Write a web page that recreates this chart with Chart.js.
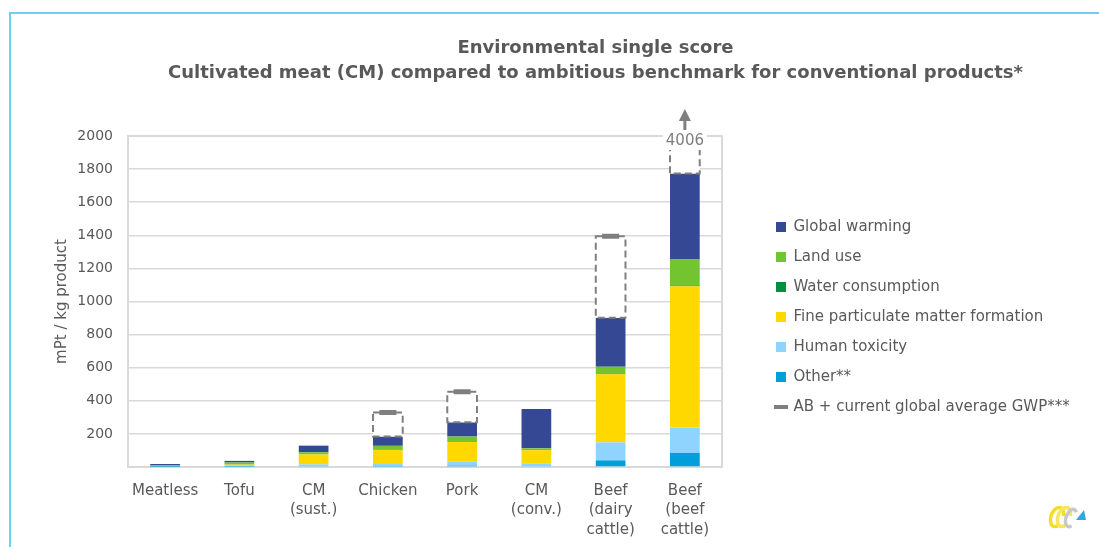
<!DOCTYPE html>
<html><head><meta charset="utf-8">
<script src="https://cdn.jsdelivr.net/npm/chart.js@4.4.1/dist/chart.umd.min.js"></script>
<style>
html,body{margin:0;padding:0;background:#fff;}
#wrap{position:relative;width:1099px;height:547px;overflow:hidden;}
#frame{position:absolute;left:9px;top:12px;width:1200px;height:600px;border-left:2px solid #6dcff6;border-top:2px solid #6dcff6;}
canvas{position:absolute;left:0;top:0;}
</style></head><body>
<div id="wrap"><div id="frame"></div><canvas id="c" width="1099" height="547"></canvas></div>
<script>
// ---- data ----
const categories = ['Meatless', 'Tofu', ['CM', '(sust.)'], 'Chicken', 'Pork', ['CM', '(conv.)'], ['Beef', '(dairy', 'cattle)'], ['Beef', '(beef', 'cattle)']];
const globalWarming     = [8, 10, 40, 56, 86, 237, 296, 520];
const landUse           = [5, 10, 12, 24, 32, 10, 44, 157];
const waterConsumption  = [1, 2, 1, 1, 1, 1, 2, 5];
const fineParticulate   = [2, 8, 60, 85, 117, 80, 411, 854];
const humanToxicity     = [1, 5, 12, 15, 26, 18, 109, 153];
const other             = [1, 2, 4, 3, 8, 4, 40, 85];
const abGlobalGWP       = [null, null, null, 330, 455, null, 1395, 4006];
const yTicks            = [0, 200, 400, 600, 800, 1000, 1200, 1400, 1600, 1800, 2000];

const seriesNames = ['Global warming', 'Land use', 'Water consumption', 'Fine particulate matter formation', 'Human toxicity', 'Other**'];
const abName = 'AB + current global average GWP***';
const colors = ['#344893', '#72c531', '#00913f', '#ffd800', '#8fd3ff', '#009fda'];
const GREY = '#7f7f7f';
const TEXT = '#595959';

const totals = categories.map((_, i) => globalWarming[i] + landUse[i] + waterConsumption[i] + fineParticulate[i] + humanToxicity[i] + other[i]);
const abBox = abGlobalGWP.map((v, i) => v == null ? null : [totals[i], v]);

Chart.defaults.font.family = "'DejaVu Sans', sans-serif";
Chart.defaults.color = TEXT;

const stackSeries = [other, humanToxicity, fineParticulate, waterConsumption, landUse, globalWarming];
const stackNames = seriesNames.slice().reverse();
const stackColors = colors.slice().reverse();

const datasets = stackSeries.map((d, k) => ({
  type: 'bar', label: stackNames[k], data: d, backgroundColor: stackColors[k],
  stack: 'main', order: 2, borderWidth: 0
}));
datasets.push({ type: 'bar', label: '', data: abBox, backgroundColor: '#ffffff', stack: 'ab', order: 1, borderWidth: 0, isAbBox: true });
datasets.push({ type: 'line', label: abName, data: abGlobalGWP, showLine: false, order: 0,
  pointStyle: 'line', pointRadius: 8.5, pointHoverRadius: 8.5, pointBorderWidth: 5, pointBorderColor: GREY, borderColor: GREY, backgroundColor: GREY });

const TITLE_DX = 46, LEGEND_DX = 39, LEGEND_DY = 47, LEGEND_W = 377;

const extras = {
  id: 'extras',
  afterInit(chart) {
    const lg = chart.legend;
    const of = lg.fit;
    lg.fit = function () { of.apply(this, arguments); this.width = LEGEND_W; };
    const od = lg.draw;
    lg.draw = function () { const c = this.ctx; c.save(); c.translate(LEGEND_DX, LEGEND_DY); od.apply(this, arguments); c.restore(); };
    const tb = chart.titleBlock;
    const otd = tb.draw;
    tb.draw = function () { const c = this.ctx; c.save(); c.translate(TITLE_DX, 0); otd.apply(this, arguments); c.restore(); };
  },
  beforeDatasetsDraw(chart) {
    const { ctx, chartArea: a } = chart;
    ctx.save();
    ctx.strokeStyle = '#d9d9d9'; ctx.lineWidth = 2;
    ctx.strokeRect(a.left, a.top, a.right - a.left, a.bottom - a.top);
    ctx.restore();
  },
  afterDatasetDraw(chart, args) {
    const ds = chart.data.datasets[args.index];
    if (!ds.isAbBox) return;
    const { ctx, chartArea: a } = chart;
    ctx.save();
    ctx.beginPath(); ctx.rect(a.left, a.top - 1, a.right - a.left, a.bottom - a.top + 1); ctx.clip();
    ctx.strokeStyle = GREY; ctx.lineWidth = 2; ctx.setLineDash([7, 4]);
    args.meta.data.forEach((el, i) => {
      if (ds.data[i] == null) return;
      const p = el.getProps(['x', 'y', 'base', 'width'], true);
      const top = Math.min(p.y, p.base), bot = Math.max(p.y, p.base);
      ctx.strokeRect(p.x - p.width / 2, top, p.width, bot - top);
    });
    ctx.restore();
  },
  afterDatasetsDraw(chart) {
    const { ctx, chartArea: a, scales: { x, y } } = chart;
    ctx.save();
    abGlobalGWP.forEach((v, i) => {
      if (v == null || v <= y.max) return;
      const cx = x.getPixelForValue(i);
      const cy = a.top + 5;
      ctx.font = "15px 'DejaVu Sans'";
      const w = ctx.measureText(String(v)).width;
      ctx.fillStyle = '#fff';
      ctx.fillRect(cx - w / 2 - 3, cy - 9, w + 6, 18);
      ctx.fillStyle = GREY; ctx.textAlign = 'center'; ctx.textBaseline = 'middle';
      ctx.fillText(String(v), cx, cy);
      // arrow
      ctx.fillRect(cx - 1.5, a.top - 17, 3, 11);
      ctx.beginPath(); ctx.moveTo(cx - 6, a.top - 15); ctx.lineTo(cx + 6, a.top - 15); ctx.lineTo(cx, a.top - 27); ctx.closePath(); ctx.fill();
    });
    ctx.restore();
  },
  afterDraw(chart) {
    // small logo
    const ctx = chart.ctx;
    ctx.save();
    ctx.lineWidth = 3.5;
    ctx.strokeStyle = '#f2dc2c';
    ctx.beginPath(); ctx.ellipse(1057, 517, 6, 10, 0.35, 0.6, Math.PI * 1.9); ctx.stroke();
    ctx.strokeStyle = '#f5e65a';
    ctx.beginPath(); ctx.ellipse(1064, 517, 6, 10, 0.35, 0.6, Math.PI * 1.9); ctx.stroke();
    ctx.strokeStyle = '#c8c8c8';
    ctx.beginPath(); ctx.ellipse(1071, 518, 5, 9, 0.35, 0.9, Math.PI * 1.7); ctx.stroke();
    ctx.fillStyle = '#2fa8e0';
    ctx.beginPath(); ctx.moveTo(1076, 520); ctx.lineTo(1086, 520); ctx.lineTo(1084, 510); ctx.closePath(); ctx.fill();
    ctx.restore();
  }
};

new Chart(document.getElementById('c'), {
  data: { labels: categories, datasets },
  plugins: [extras],
  options: {
    responsive: false, animation: false, devicePixelRatio: 1,
    layout: { padding: { top: 0, left: 0, right: 0, bottom: 7 } },
    datasets: { bar: { grouped: false, categoryPercentage: 1, barPercentage: 0.4 } },
    plugins: {
      tooltip: { enabled: false },
      title: {
        display: true, text: ['Environmental single score', 'Cultivated meat (CM) compared to ambitious benchmark for conventional products*'],
        font: { size: 18, weight: 'bold', lineHeight: 25 / 18 }, color: TEXT, padding: { top: 36, bottom: 50 }
      },
      legend: {
        position: 'right',
        labels: {
          color: TEXT, font: { size: 15 }, padding: 15, boxWidth: 10, boxHeight: 10, usePointStyle: true,
          generateLabels(chart) {
            const order = [5, 4, 3, 2, 1, 0, 7];
            return order.map(i => {
              const ds = chart.data.datasets[i];
              const isLine = ds.type === 'line';
              return { text: ds.label, fillStyle: isLine ? GREY : ds.backgroundColor, strokeStyle: isLine ? GREY : ds.backgroundColor,
                lineWidth: isLine ? 4 : 0, pointStyle: isLine ? 'line' : 'rect', datasetIndex: i, hidden: false, fontColor: TEXT };
            });
          }
        }
      }
    },
    scales: {
      x: {
        stacked: true,
        afterFit(s) { s.height = 73; },
        grid: { display: false, drawTicks: false },
        border: { color: '#d9d9d9', width: 2 },
        ticks: { font: { size: 15, lineHeight: 1.3 }, color: TEXT, padding: 14, maxRotation: 0, autoSkip: false }
      },
      y: {
        stacked: true, min: 0, max: 2000,
        afterFit(s) { s.width = 128; },
        afterBuildTicks(s) { s.ticks = yTicks.map(v => ({ value: v })); },
        grid: { color: '#d9d9d9', lineWidth: 1.5, drawTicks: false },
        border: { color: '#d9d9d9', width: 2 },
        ticks: { font: { size: 14 }, color: TEXT, padding: 15, callback: v => v === 0 ? '' : String(v) },
        title: { display: true, text: 'mPt / kg product', font: { size: 15 }, color: TEXT, padding: { top: 53, bottom: 4 } }
      }
    }
  }
});
</script>
</body></html>
